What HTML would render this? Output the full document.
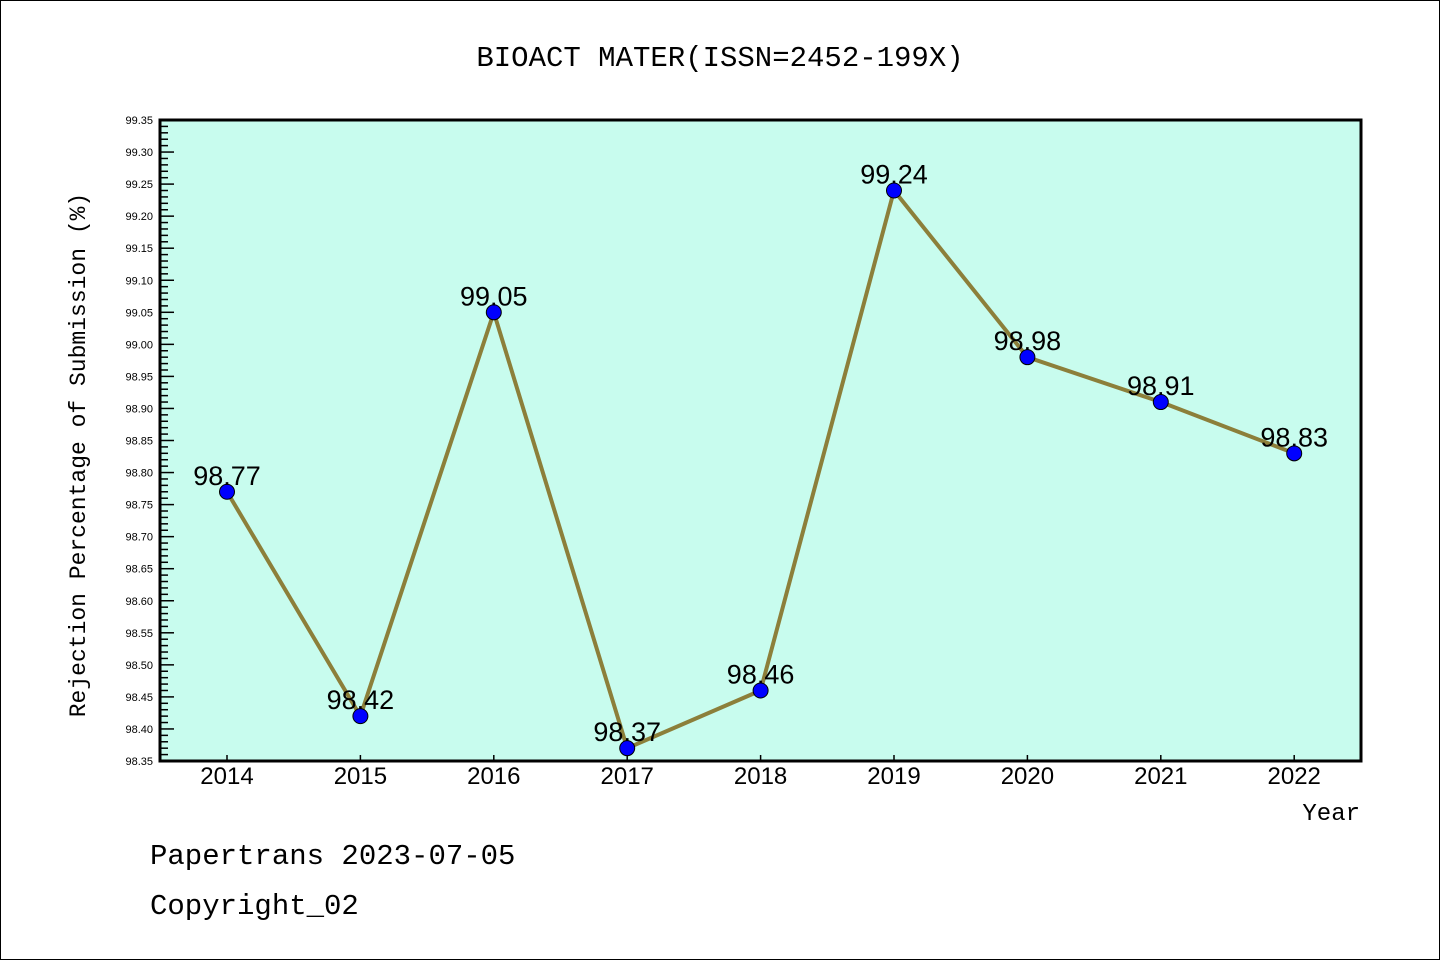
<!DOCTYPE html>
<html><head><meta charset="utf-8"><style>
html,body{margin:0;padding:0;background:#fff;}
svg{display:block;font-family:"Liberation Mono","Noto Sans CJK SC",monospace;}
</style></head><body>
<svg id="chart" width="1440" height="960">
<rect x="0.5" y="0.5" width="1439" height="959" fill="#fff" stroke="#000"/>
<text x="720" y="66" text-anchor="middle" font-size="29">BIOACT MATER(ISSN=2452-199X)</text>
<rect x="160" y="120" width="1201" height="641" fill="#c8fcee"/>
<g id="yaxis"></g>
<g id="xaxis"></g>
<g id="series"></g>
<rect x="160" y="120" width="1201" height="641" fill="none" stroke="#000" stroke-width="3"/>
<text transform="translate(85,455) rotate(-90)" text-anchor="middle" font-size="23">Rejection Percentage of Submission (%)</text>
<text x="1360" y="820" text-anchor="end" font-size="24">Year</text>
<text x="150" y="864" font-size="29">Papertrans 2023-07-05</text>
<text x="150" y="914" font-size="29">Copyright_02</text>
</svg>
<script>
const categories = ["2014","2015","2016","2017","2018","2019","2020","2021","2022"];
const values = [98.77,98.42,99.05,98.37,98.46,99.24,98.98,98.91,98.83];
const yTicks = ["98.35","98.40","98.45","98.50","98.55","98.60","98.65","98.70","98.75","98.80","98.85","98.90","98.95","99.00","99.05","99.10","99.15","99.20","99.25","99.30","99.35"];
const NS="http://www.w3.org/2000/svg";
const yMin=98.35,yMax=99.35,yTop=120,yBot=761,xLeft=160;
function y(v){return yBot-(v-yMin)/(yMax-yMin)*(yBot-yTop);}
function x(i){return 227+i*133.4;}
function mk(t,a,p){const e=document.createElementNS(NS,t);for(const k in a)e.setAttribute(k,a[k]);p.appendChild(e);return e;}
const ya=document.getElementById('yaxis');
for(let k=0;k<=100;k++){const v=yMin+k*0.01;const major=k%5===0;
 const l=mk('line',{x1:xLeft,x2:xLeft+(major?14:8),y1:y(v),y2:y(v),stroke:'#000','stroke-width':1.5},ya);
 
 }
yTicks.forEach(t=>{const e=mk('text',{x:153,y:y(parseFloat(t))+4,'text-anchor':'end','font-size':11,'font-family':'Liberation Sans, sans-serif'},ya);e.textContent=t;
 
 });
const xa=document.getElementById('xaxis');
categories.forEach((c,i)=>{const l=mk('line',{x1:x(i),x2:x(i),y1:yBot,y2:yBot-6,stroke:'#000','stroke-width':1.5},xa);
 
 
 const t=mk('text',{x:x(i),y:784,'text-anchor':'middle','font-size':24,'font-family':'Liberation Sans, sans-serif'},xa);t.textContent=c;
 
 });
const s=document.getElementById('series');
const pl=mk('polyline',{points:values.map((v,i)=>x(i)+','+y(v)).join(' '),fill:'none',stroke:'#8c7f3a','stroke-width':4},s);


values.forEach((v,i)=>{const c=mk('circle',{cx:x(i),cy:y(v),r:7.5,fill:'#0000ff',stroke:'#000','stroke-width':1},s);
 
 
 const t=mk('text',{x:x(i),y:y(v)-7,'text-anchor':'middle','font-size':27,'font-family':'Liberation Sans, sans-serif'},s);t.textContent=v.toFixed(2);
 
 });
</script>
</body></html>
